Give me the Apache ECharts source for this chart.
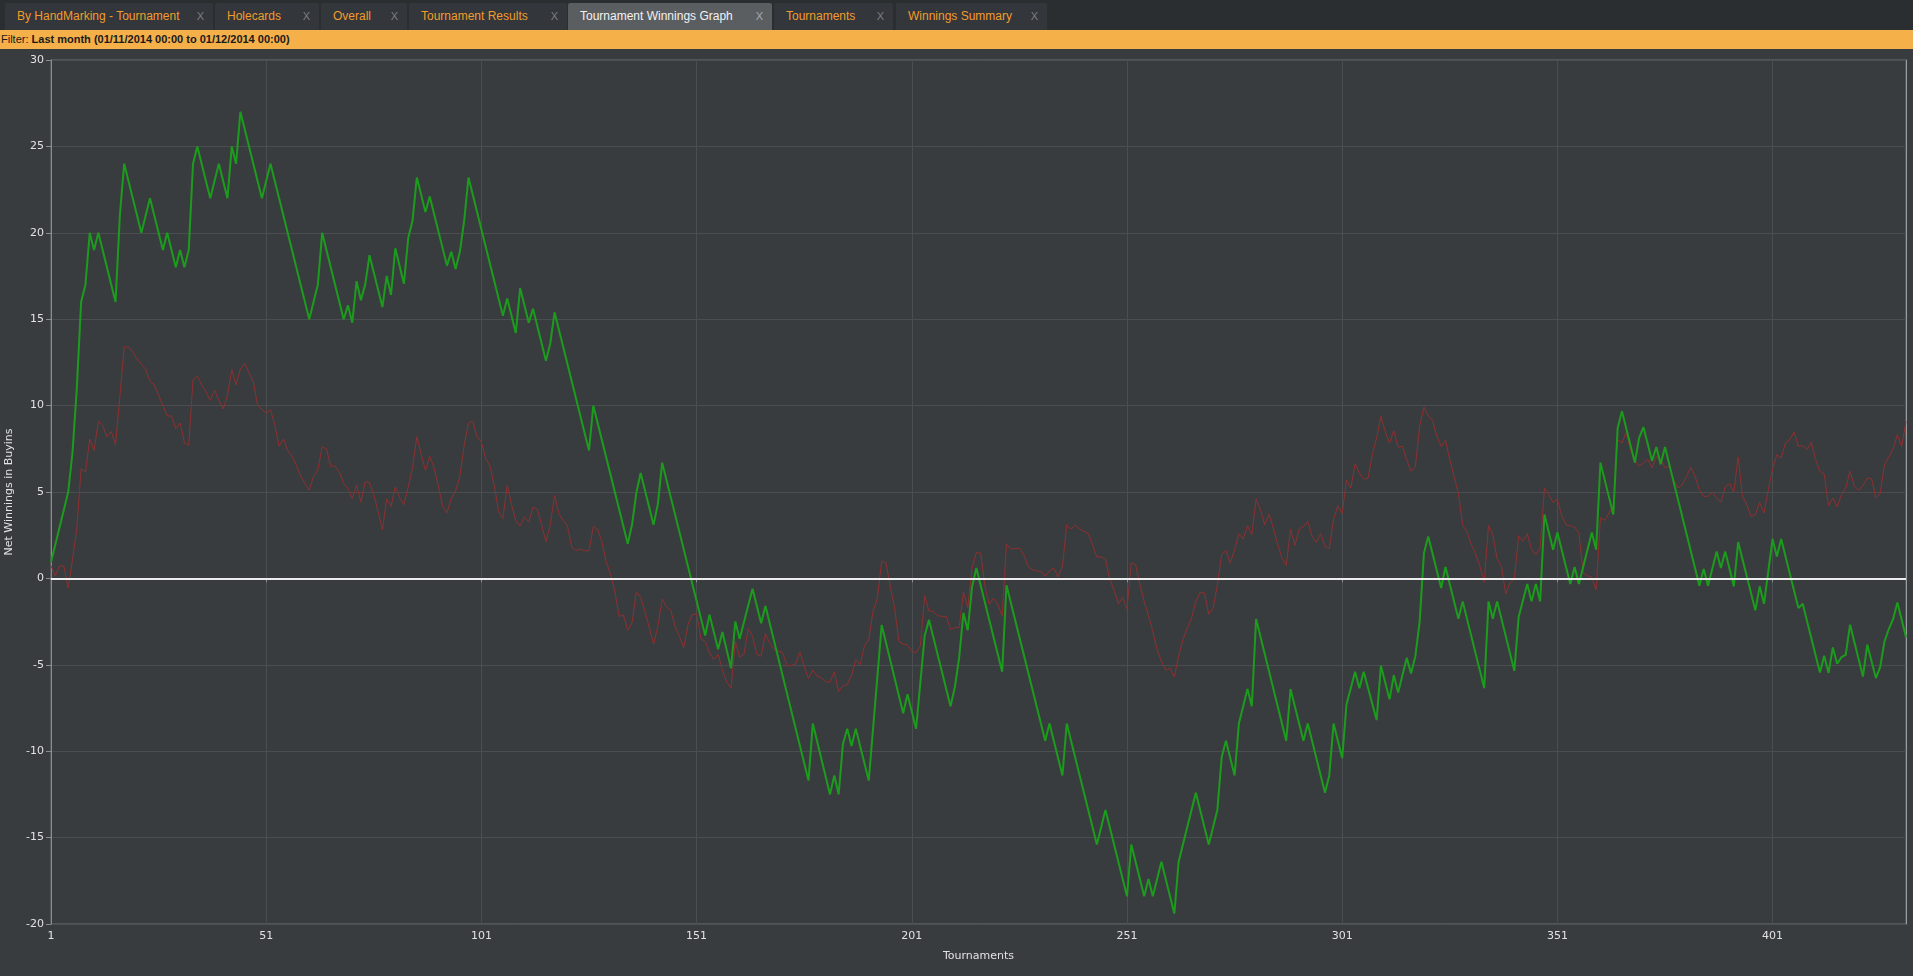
<!DOCTYPE html>
<html>
<head>
<meta charset="utf-8">
<script src="https://cdn.jsdelivr.net/npm/echarts@6/dist/echarts.min.js"></script>
<style>
  html,body{margin:0;padding:0;width:1913px;height:976px;overflow:hidden;background:#393c3f;font-family:"Liberation Sans",Arial,sans-serif;}
  #tabs{position:absolute;left:0;top:0;width:1913px;height:30px;background:#2b2e31;}
  .tab{position:absolute;top:3px;height:27px;background:#33363a;color:#f19c2c;font-size:12px;line-height:27px;box-sizing:border-box;padding-left:12px;white-space:nowrap;border-radius:2px 2px 0 0;}
  .tab.active{background:#5b5e61;color:#f2f2f2;}
  .tab .x{position:absolute;top:0;color:#7d7f82;font-size:11px;}
  .tab.active .x{color:#a8aaac;}
  #filter{position:absolute;left:0;top:30px;width:1913px;height:19px;background:#f5b04a;color:#1a1a1a;font-size:11px;line-height:19px;padding-left:1px;box-sizing:border-box;}
  #filter b{font-weight:bold;}
  #chart{position:absolute;left:0;top:49px;width:1913px;height:927px;}
</style>
</head>
<body>
<div id="tabs"></div>
<div id="filter">Filter: <b>Last month (01/11/2014 00:00 to 01/12/2014 00:00)</b></div>
<div id="chart"></div>
<script>
// ---- tab strip ----
const tabNames = ["By HandMarking - Tournament","Holecards","Overall","Tournament Results","Tournament Winnings Graph","Tournaments","Winnings Summary"];
const tabLefts = [5,215,321,409,568,774,896];
const tabWidths = [208,104,86,158,204,119,151];
const activeTab = 4;

// ---- chart data ----
const tournamentCount = 432;
const yTicks = {min:-20, max:30, step:5};

// Red line: one value per tournament (1..432)
const redValues = [
0.74,0.14,0.74,0.7,-0.56,1.1,2.9,6.35,6.15,8.07,
7.4,9.1,8.85,8.2,8.5,7.75,10.5,13.4,13.4,13.1,
12.7,12.4,12.1,11.4,11.2,10.6,10.0,9.4,9.4,8.65,
9.0,7.85,7.7,11.5,11.7,11.2,10.8,10.3,10.9,10.3,
9.8,10.6,12.1,11.2,12.1,12.45,11.9,11.4,10.0,9.8,
9.55,9.75,8.9,7.65,8.07,7.4,7.07,6.55,5.9,5.5,
5.1,5.9,6.3,7.6,7.5,6.5,6.5,6.15,5.5,5.2,
4.6,5.4,4.4,5.6,5.55,4.85,3.86,2.82,4.6,4.16,
5.3,4.68,4.27,5.3,6.4,8.2,7.2,6.25,7.07,6.4,
5.36,4.16,3.8,4.64,5.05,5.9,7.7,8.97,9.1,8.2,
7.9,6.95,6.5,5.36,3.86,3.46,5.4,4.27,3.34,3.03,
3.55,3.26,4.12,4.0,3.1,2.12,3.1,4.8,3.75,3.34,
3.03,1.8,1.6,1.7,1.6,1.6,3.0,2.85,2.1,0.97,
0.25,-0.72,-2.2,-2.12,-3.0,-2.58,-0.78,-1.1,-1.9,-2.85,
-3.8,-2.78,-1.2,-1.65,-1.86,-2.78,-3.36,-4.0,-2.68,-2.1,
-2.05,-3.5,-3.65,-4.3,-4.7,-4.4,-5.3,-6.0,-6.35,-3.65,
-4.55,-4.4,-2.9,-3.35,-4.4,-4.5,-3.2,-3.75,-4.1,-4.2,
-4.3,-5.05,-5.05,-4.95,-4.25,-5.1,-5.8,-5.3,-5.65,-5.75,
-6.0,-6.0,-5.4,-6.55,-6.2,-6.15,-5.6,-4.7,-5.0,-3.9,
-3.55,-1.9,-1.15,1.0,0.9,-0.45,-1.7,-3.65,-3.8,-3.85,
-4.2,-4.3,-3.9,-1.0,-1.9,-1.9,-2.15,-2.2,-2.2,-2.95,
-2.85,-2.85,-0.8,-1.7,0.6,1.5,1.47,-0.45,-1.5,-1.15,
-1.5,-2.2,2.0,1.7,1.72,1.76,1.37,0.7,0.5,0.44,
0.4,0.12,0.44,0.6,0.08,0.7,3.1,2.86,3.07,2.86,
2.72,2.6,1.95,1.24,1.24,1.12,-0.04,-0.7,-1.47,-1.08,
-1.78,0.9,0.8,-0.37,-1.33,-2.16,-3.07,-4.13,-4.8,-5.3,
-5.2,-5.7,-4.5,-3.55,-2.88,-2.3,-1.33,-0.81,-0.85,-2.07,
-1.72,-0.37,1.37,1.62,0.9,1.66,2.57,2.28,3.05,2.53,
4.6,3.98,3.1,3.73,2.9,2.0,1.18,0.75,2.86,1.9,
2.86,3.0,3.3,2.43,2.08,2.6,1.85,1.7,3.44,4.2,
3.75,5.7,5.23,6.64,6.1,5.75,5.8,7.16,8.13,9.38,
8.5,7.84,8.55,7.6,7.64,6.87,6.2,6.45,8.8,9.92,
9.42,9.15,8.22,7.64,8.0,6.87,5.9,4.94,3.07,2.72,
1.95,1.43,0.7,-0.23,3.07,2.53,1.14,0.7,-0.9,-0.27,
-0.04,2.47,2.14,2.59,1.66,1.37,1.76,5.23,4.85,4.4,
4.6,3.63,3.1,3.05,2.97,2.63,0.3,0.15,0.06,-0.66,
3.5,3.36,3.78,4.2,8.03,7.84,8.45,7.4,6.8,6.5,
6.68,6.9,6.4,7.03,6.9,6.4,6.49,5.71,5.23,5.42,
5.9,6.43,5.9,5.13,4.75,4.75,4.98,4.65,4.4,5.29,
5.48,4.98,7.03,4.75,4.27,3.59,3.69,4.4,3.78,5.13,
6.33,7.16,6.97,7.84,8.03,8.47,7.64,7.68,7.45,7.88,
6.87,6.2,6.04,4.21,4.65,4.13,4.85,5.23,6.2,5.33,
5.1,5.37,5.81,5.77,4.65,4.9,6.58,7.03,7.5,8.32,
7.64,9.09
];

// Green line: turning points (tournament number, net winnings)
const greenTournaments = [
1,5,6,7,8,9,10,11,12,16,17,18,22,24,27,28,30,31,32,33,34,35,38,40,42,43,44,45,50,52,
61,63,64,69,70,71,72,73,74,75,78,79,80,81,83,84,85,86,88,89,93,94,95,96,97,98,
106,107,109,110,112,113,116,117,118,126,127,135,136,137,138,141,142,143,
153,154,156,157,159,160,161,164,166,167,177,178,182,183,184,185,186,187,188,191,194,
199,200,202,204,205,210,211,212,213,214,215,216,222,223,232,233,236,237,244,246,
251,252,255,256,257,259,262,263,267,270,272,273,274,276,277,279,280,281,288,289,292,293,297,298,299,
301,302,304,305,306,309,310,312,313,314,316,317,318,319,320,321,324,325,328,329,334,335,336,337,
341,342,344,345,346,347,348,350,351,354,355,356,359,360,361,364,365,366,369,370,371,373,374,375,376,
384,385,386,388,389,390,392,393,397,398,399,401,402,403,407,408,412,413,414,415,416,417,418,419,
422,423,425,426,427,428,429,430,432
];
const greenValues = [
0.94,5,7.3,11,16,17,20,19,20,16,21,24,20,22,19,20,18,19,18,19,24,25,22,24,22,25,24,27,22,24,
15,17,20,15,15.8,14.8,17.2,16.1,17,18.7,15.7,17.5,16.4,19.1,17.05,19.7,20.7,23.2,21.2,22.1,18.1,18.9,17.9,18.9,20.7,23.2,
15.2,16.2,14.2,16.8,14.8,15.6,12.6,13.6,15.4,7.4,10.0,2.0,3.1,4.95,6.1,3.1,4.3,6.7,
-3.3,-2.1,-4.1,-3.1,-5.2,-2.5,-3.5,-0.6,-2.6,-1.6,-11.7,-8.4,-12.5,-11.4,-12.5,-9.6,-8.7,-9.7,-8.7,-11.7,-2.7,
-7.8,-6.7,-8.7,-3.3,-2.4,-7.4,-6.3,-4.6,-2.0,-3.0,-0.5,0.6,-5.4,-0.4,-9.4,-8.4,-11.4,-8.4,-15.4,-13.4,
-18.4,-15.4,-18.4,-17.4,-18.4,-16.4,-19.4,-16.4,-12.4,-15.4,-13.4,-10.35,-9.4,-11.4,-8.4,-6.4,-7.4,-2.35,-9.4,-6.4,-9.4,-8.4,-12.4,-11.4,-8.4,
-10.4,-7.3,-5.4,-6.35,-5.4,-8.2,-5.05,-7.0,-5.6,-6.6,-4.6,-5.5,-4.5,-2.5,1.47,2.43,-0.56,0.66,-2.34,-1.33,-6.35,-1.33,-2.34,-1.33,
-5.35,-2.24,-0.33,-1.33,-0.33,-1.33,3.7,1.66,2.66,-0.33,0.66,-0.33,2.66,1.66,6.7,3.7,8.7,9.67,6.7,8.13,8.75,6.8,7.6,6.6,7.6,
-0.42,0.54,-0.42,1.56,0.6,1.56,-0.46,2.1,-1.85,-0.46,-1.47,2.28,1.27,2.28,-1.72,-1.47,-5.44,-4.48,-5.48,-4.0,-4.94,-4.56,-4.42,-2.68,
-5.68,-3.84,-5.77,-5.13,-3.65,-2.93,-2.36,-1.39,-3.4
];

// ---- build tabs ----
const tabsEl = document.getElementById('tabs');
tabNames.forEach((name,i)=>{
  const d = document.createElement('div');
  d.className = 'tab' + (i===activeTab ? ' active' : '');
  d.style.left = tabLefts[i] + 'px';
  d.style.width = tabWidths[i] + 'px';
  d.textContent = name;
  const x = document.createElement('span');
  x.className = 'x';
  x.textContent = 'X';
  x.style.right = '9px';
  d.appendChild(x);
  tabsEl.appendChild(d);
});

// ---- chart ----
const categories = [];
for (let i = 1; i <= tournamentCount; i++) categories.push(String(i));
const greenData = greenTournaments.map((t,i)=>[t-1, greenValues[i]]);

const axisColor = '#8a8c8e';
const gridColor = '#4b4e51';
const labelColor = '#e2e2e2';
const fontFamily = '"DejaVu Sans", Verdana, sans-serif';

const chart = echarts.init(document.getElementById('chart'), null, {renderer:'canvas'});
chart.setOption({
  backgroundColor: '#393c3f',
  animation: false,
  grid: {left: 51, right: 7, top: 11, bottom: 52, containLabel: false, outerBoundsMode: 'none', show: true, borderColor: '#6e7073', borderWidth: 1, backgroundColor: 'transparent'},
  xAxis: {
    type: 'category',
    data: categories,
    boundaryGap: false,
    name: 'Tournaments',
    nameLocation: 'middle',
    nameGap: 27,
    nameTextStyle: {color: labelColor, fontSize: 11, fontFamily},
    axisLine: {show: true, lineStyle: {color: axisColor, width: 2}},
    axisTick: {show: true, interval: 49, length: 4, lineStyle: {color: axisColor}},
    axisLabel: {interval: 49, color: labelColor, fontSize: 11, fontFamily, margin: 7},
    splitLine: {show: true, interval: 49, lineStyle: {color: gridColor, width: 1}}
  },
  yAxis: [{
    type: 'value',
    min: yTicks.min, max: yTicks.max, interval: yTicks.step,
    name: 'Net Winnings in Buyins',
    nameLocation: 'middle',
    nameGap: 36,
    nameRotate: 90,
    nameTextStyle: {color: labelColor, fontSize: 11, fontFamily},
    axisLine: {show: true, lineStyle: {color: axisColor, width: 1}},
    axisTick: {show: true, length: 5, lineStyle: {color: axisColor}},
    axisLabel: {color: labelColor, fontSize: 11, fontFamily, margin: 7},
    splitLine: {show: true, lineStyle: {color: gridColor, width: 1}}
  },{
    type: 'value', position: 'right',
    min: yTicks.min, max: yTicks.max, interval: yTicks.step,
    axisLine: {show: true, lineStyle: {color: '#9a9c9e', width: 1}},
    axisTick: {show: false}, axisLabel: {show: false}, splitLine: {show: false}
  }],
  series: [{
    type: 'line',
    data: redValues,
    showSymbol: false,
    symbol: 'none',
    lineStyle: {color: '#8e2f2f', width: 1},
    z: 2,
    markLine: {
      silent: true, symbol: 'none',
      label: {show: false},
      lineStyle: {color: '#ececec', width: 2, type: 'solid'},
      data: [{yAxis: 0}]
    }
  },{
    type: 'line',
    data: greenData,
    showSymbol: false,
    symbol: 'none',
    lineStyle: {color: '#1c9c1c', width: 2},
    z: 3
  }]
});
</script>
</body>
</html>
